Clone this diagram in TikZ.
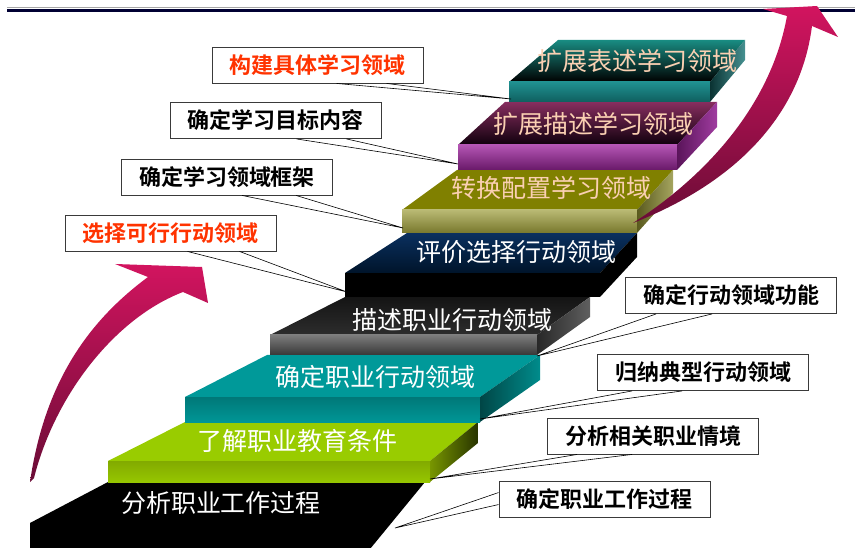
\documentclass[tikz,border=0pt]{standalone}
\usepackage{fontspec}
\setmainfont{Noto Sans CJK SC}[BoldFont={Noto Sans CJK SC Bold}]
\definecolor{boxgray}{HTML}{3A3A3A}
\definecolor{calloutred}{HTML}{FF3300}
\definecolor{peach}{HTML}{FAD0B2}
\definecolor{arrowhi}{HTML}{D2145F}
\definecolor{arrowlo}{HTML}{6A0C36}
\definecolor{rulenavy}{HTML}{000033}
\def\stairstep[#1](#2,#3)(#4,#5)(#6,#7)(#8){%
	\path[#1 top] (#2,#3) -- (#4,#5) -- (#6,#5) -- (#7,#3) -- cycle;
	\path[#1 front] (#2,#3) rectangle (#7,{#3+#8});
	\path[#1 side] (#7,#3) -- (#6,#5) -- (#6,{#5+#8}) -- (#7,{#3+#8}) -- cycle;}
\tikzset{
	lime top/.style={fill={rgb,255:red,153;green,204;blue,0}},
	lime front/.style={top color={rgb,255:red,130;green,170;blue,0}, middle color={rgb,255:red,108;green,140;blue,0}, bottom color={rgb,255:red,150;green,198;blue,0}},
	lime side/.style={left color={rgb,255:red,120;green,150;blue,0}, right color={rgb,255:red,40;green,52;blue,0}},
	teal top/.style={fill={rgb,255:red,0;green,153;blue,153}},
	teal front/.style={top color={rgb,255:red,0;green,120;blue,120}, bottom color={rgb,255:red,0;green,150;blue,150}},
	teal side/.style={left color={rgb,255:red,0;green,70;blue,70}, right color={rgb,255:red,0;green,140;blue,140}},
	slate top/.style={top color={rgb,255:red,20;green,20;blue,20}, bottom color={rgb,255:red,45;green,45;blue,45}},
	slate front/.style={top color={rgb,255:red,125;green,125;blue,125}, bottom color={rgb,255:red,55;green,55;blue,55}},
	slate side/.style={left color={rgb,255:red,40;green,40;blue,40}, right color={rgb,255:red,95;green,95;blue,95}},
	navy top/.style={top color={rgb,255:red,10;green,48;blue,95}, bottom color={rgb,255:red,0;green,20;blue,42}},
	navy front/.style={fill=black}, navy side/.style={fill=black},
	olive top/.style={fill={rgb,255:red,128;green,128;blue,0}},
	olive front/.style={top color={rgb,255:red,185;green,185;blue,115}, bottom color={rgb,255:red,120;green,120;blue,45}},
	olive side/.style={left color={rgb,255:red,90;green,90;blue,30}, right color={rgb,255:red,165;green,165;blue,95}},
	plum top/.style={top color={rgb,255:red,135;green,45;blue,95}, bottom color={rgb,255:red,15;green,0;blue,12}},
	plum front/.style={top color={rgb,255:red,180;green,85;blue,180}, bottom color={rgb,255:red,105;green,25;blue,105}},
	plum side/.style={left color={rgb,255:red,90;green,20;blue,90}, right color={rgb,255:red,160;green,60;blue,160}},
	sea top/.style={top color={rgb,255:red,25;green,140;blue,130}, bottom color=black},
	sea front/.style={top color={rgb,255:red,32;green,145;blue,145}, bottom color={rgb,255:red,15;green,95;blue,95}},
	sea side/.style={left color={rgb,255:red,10;green,50;blue,50}, right color={rgb,255:red,70;green,145;blue,145}},
}
\begin{document}
\begin{tikzpicture}[x=1pt, y=-1pt,
		steptext/.style={font=\fontsize{25}{25}\selectfont, inner sep=0pt},
		calloutbox/.style={draw=boxgray, line width=0.9pt, fill=white, minimum width=211pt, minimum height=36pt, inner sep=0pt, font=\fontsize{22}{22}\selectfont\bfseries},
		wedge/.style={draw=black, line width=0.6pt, line join=miter}]
			%%%%% START %%%%%
			\useasboundingbox (0,0) rectangle (855,548);
			
			\draw[line width=1pt, color=black!35] (7,8) -- (855,8);
			\draw[line width=2.4pt, color=rulenavy] (7,10.5) -- (855,10.5);
			
			\fill[black] (30,523) -- (108,482) -- (425,482) -- (370,549) -- (30,549) -- cycle;
			\stairstep[lime](108,461)(185,422)(478,430)(21)
			\stairstep[teal](185,397)(267,355)(540,480)(25)
			\stairstep[slate](270,335)(345,297)(590,537)(20)
			\stairstep[navy](345,273)(407,233)(637,600)(24)
			\stairstep[olive](402,210)(457,170)(673,637)(23)
			\stairstep[plum](458,145)(505,102)(717,677)(25)
			\stairstep[sea](509,82)(558,40)(745,710)(20)
			
			\node[steptext, text=white] (analyse) at (221,503) {分析职业工作过程};
			\node[steptext, text=white] (conditions) at (297,441) {了解职业教育条件};
			\node[steptext, text=white] (determine) at (375,377) {确定职业行动领域};
			\node[steptext, text=white] (describe) at (452,320) {描述职业行动领域};
			\node[steptext, text=white] (evaluate) at (516,252) {评价选择行动领域};
			\node[steptext, text=peach] (transfer) at (551,188) {转换配置学习领域};
			\node[steptext, text=peach] (extenddesc) at (593,124) {扩展描述学习领域};
			\node[steptext, text=peach] (extendexpr) at (637,61) {扩展表述学习领域};
			
			\shade[top color=arrowhi, bottom color=arrowlo] (30,482) .. controls (45,380) and (90,320) .. (148,277) -- (115,264) -- (202,267) -- (208,303) -- (183,292) .. controls (115,318) and (55,395) .. (34,478) -- cycle;
			\shade[top color=arrowhi, bottom color=arrowlo] (633,223) .. controls (700,180) and (770,110) .. (787,16) -- (763,9) -- (817,6) -- (838,37) -- (812,26) .. controls (800,120) and (730,185) .. (633,223) -- cycle;
			
			\coordinate (tipA) at (395,528);
			\coordinate (tipB) at (430,479);
			\coordinate (tipC) at (480,419);
			\coordinate (tipD) at (537,356);
			\coordinate (tipE) at (511,99);
			\coordinate (tipF) at (458,164);
			\coordinate (tipG) at (403,228);
			\coordinate (tipH) at (347,292);
			
			\node[calloutbox] (boxA) at (604.5,499) {确定职业工作过程};
			\node[calloutbox] (boxB) at (653,436) {分析相关职业情境};
			\node[calloutbox] (boxC) at (703,372.5) {归纳典型行动领域};
			\node[calloutbox] (boxD) at (731,295.5) {确定行动领域功能};
			\node[calloutbox, text=calloutred] (boxE) at (317.5,65) {构建具体学习领域};
			\node[calloutbox] (boxF) at (275.5,120.5) {确定学习目标内容};
			\node[calloutbox] (boxG) at (227,177) {确定学习领域框架};
			\node[calloutbox, text=calloutred] (boxH) at (170.5,233) {选择可行行动领域};
			
			\draw[wedge] ([yshift=-12pt]boxA.north west) -- (tipA) -- ([yshift=-24pt]boxA.north west);
			\draw[wedge] ([xshift=30pt]boxB.south west) -- (tipB) -- ([xshift=85pt]boxB.south west);
			\draw[wedge] ([xshift=35pt]boxC.south west) -- (tipC) -- ([xshift=85pt]boxC.south west);
			\draw[wedge] ([xshift=31pt]boxD.south west) -- (tipD) -- ([xshift=87pt]boxD.south west);
			\draw[wedge] ([xshift=125pt]boxE.south west) -- (tipE) -- ([xshift=175pt]boxE.south west);
			\draw[wedge] ([xshift=127pt]boxF.south west) -- (tipF) -- ([xshift=177pt]boxF.south west);
			\draw[wedge] ([xshift=121pt]boxG.south west) -- (tipG) -- ([xshift=175pt]boxG.south west);
			\draw[wedge] ([xshift=123pt]boxH.south west) -- (tipH) -- ([xshift=175pt]boxH.south west);
			%%%%% END %%%%%
\end{tikzpicture}
\end{document}
